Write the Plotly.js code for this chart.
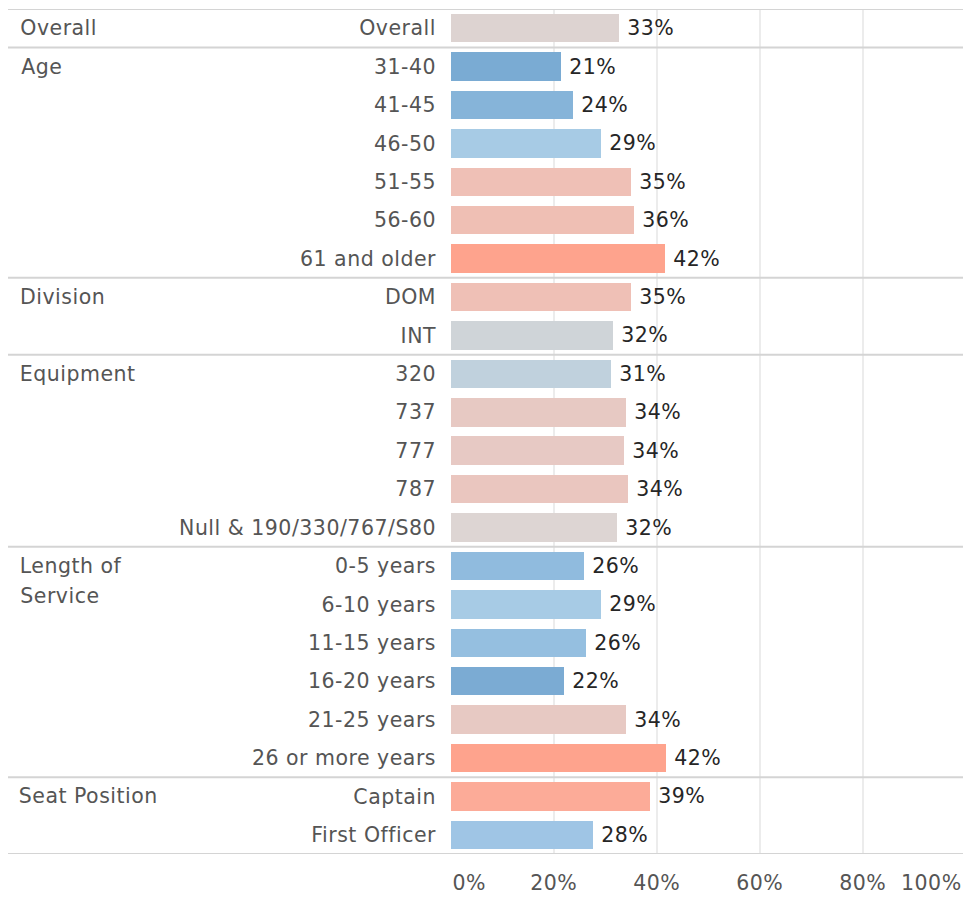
<!DOCTYPE html>
<html>
<head>
<meta charset="utf-8">
<script src="https://cdn.plot.ly/plotly-3.0.1.min.js"></script>
<style>
  html, body { margin: 0; padding: 0; background: #ffffff; }
  #chart { width: 963px; height: 897px; }
  #chart text { letter-spacing: 0.5px; }
</style>
</head>
<body>
<div id="chart"></div>
<script>
// ---- Data ----
const groups = ["Overall", "Age", "Division", "Equipment", "Length of\nService", "Seat Position"];
const groupSizes = [1, 6, 2, 5, 6, 2];
const categories = [
  "Overall",
  "31-40", "41-45", "46-50", "51-55", "56-60", "61 and older",
  "DOM", "INT",
  "320", "737", "777", "787", "Null & 190/330/767/S80",
  "0-5 years", "6-10 years", "11-15 years", "16-20 years", "21-25 years", "26 or more years",
  "Captain", "First Officer"
];
const values = [
  0.326,
  0.213, 0.236, 0.291, 0.350, 0.356, 0.416,
  0.350, 0.315,
  0.310, 0.339, 0.336, 0.343, 0.322,
  0.258, 0.291, 0.262, 0.219, 0.339, 0.418,
  0.386, 0.276
];
const barColors = [
  "#ddd3d1",
  "#7aabd3", "#86b4d9", "#a7cbe5", "#efc0b6", "#efbfb4", "#fea38d",
  "#efc0b6", "#cfd4d8",
  "#c0d1dd", "#e7c9c3", "#e7c9c4", "#eac6bf", "#ddd5d3",
  "#90bbde", "#a7cbe5", "#95bfe0", "#7babd3", "#e7c9c3", "#fea38d",
  "#fcab98", "#9fc5e5"
];
const xTickVals = [0, 0.2, 0.4, 0.6, 0.8, 1.0];
const xTickText = ["0%", "20%", "40%", "60%", "80%", "100%"];

// ---- Layout constants ----
const W = 963, H = 897;
const marginL = 451, marginR = 0, marginT = 9, marginB = 43;
const plotW = W - marginL - marginR;
const pxPerUnit = 515;             // pixels for 100%
const xMax = plotW / pxPerUnit;
const FONT = "'DejaVu Sans', 'Open Sans', sans-serif";
const FS = 20.5;
const labelColor = "#555555";
const valueColor = "#262626";
const sepColor = "#d4d4d4";

const idx = categories.map((_, i) => i);

const traces = [{
  type: "bar",
  orientation: "h",
  y: idx,
  x: values,
  width: 0.74,
  marker: { color: barColors, line: { width: 0 } },
  hoverinfo: "skip",
  showlegend: false
}];

const annotations = [];
// value labels
values.forEach((v, i) => {
  annotations.push({
    x: v, y: i, xref: "x", yref: "y",
    text: Math.round(v * 100) + "%",
    showarrow: false, xanchor: "left", yanchor: "middle", xshift: 7,
    font: { family: FONT, size: FS, color: valueColor }
  });
});
// group labels
const shapes = [];
let start = 0;
const groupLeftPaper = (20 - marginL) / plotW;
const lineLeftPaper = (8 - marginL) / plotW;
groups.forEach((g, gi) => {
  const lines = g.split("\n");
  lines.forEach((ln, k) => {
    annotations.push({
      x: groupLeftPaper, y: start, xref: "paper", yref: "y",
      text: ln, showarrow: false, xanchor: "left", yanchor: "middle",
      yshift: -30 * k,
      font: { family: FONT, size: FS, color: labelColor }
    });
  });
  start += groupSizes[gi];
});
// separator lines (top + after each group)
let b = -0.5;
shapes.push({ type: "line", xref: "paper", yref: "y", x0: lineLeftPaper, x1: 1, y0: b, y1: b,
  line: { color: sepColor, width: 2 } });
groupSizes.forEach(s => {
  b += s;
  shapes.push({ type: "line", xref: "paper", yref: "y", x0: lineLeftPaper, x1: 1, y0: b, y1: b,
    line: { color: sepColor, width: 2 } });
});
// x tick labels
xTickVals.forEach((v, i) => {
  const first = i === 0, last = i === xTickVals.length - 1;
  annotations.push({
    x: last ? 1 : v, xref: last ? "paper" : "x",
    y: 0, yref: "paper",
    text: xTickText[i], showarrow: false,
    xanchor: first ? "left" : (last ? "right" : "center"),
    yanchor: "middle", yshift: -29,
    font: { family: FONT, size: FS, color: labelColor }
  });
});

const layout = {
  width: W, height: H,
  margin: { l: marginL, r: marginR, t: marginT, b: marginB },
  paper_bgcolor: "#ffffff",
  plot_bgcolor: "#ffffff",
  bargap: 0,
  xaxis: {
    range: [0, xMax],
    tickvals: xTickVals.slice(1, 5),
    showticklabels: false,
    showgrid: true, gridcolor: "#ececec", gridwidth: 1.5,
    zeroline: false, showline: false, ticks: "",
    fixedrange: true
  },
  yaxis: {
    range: [categories.length - 0.5, -0.5],
    tickvals: idx,
    ticktext: categories,
    ticks: "",
    ticklabelstandoff: 14,
    tickfont: { family: FONT, size: FS, color: labelColor },
    showgrid: false, zeroline: false, showline: false,
    fixedrange: true
  },
  shapes: shapes,
  annotations: annotations,
  font: { family: FONT }
};

Plotly.newPlot("chart", traces, layout, { displayModeBar: false, staticPlot: true });
</script>
</body>
</html>
